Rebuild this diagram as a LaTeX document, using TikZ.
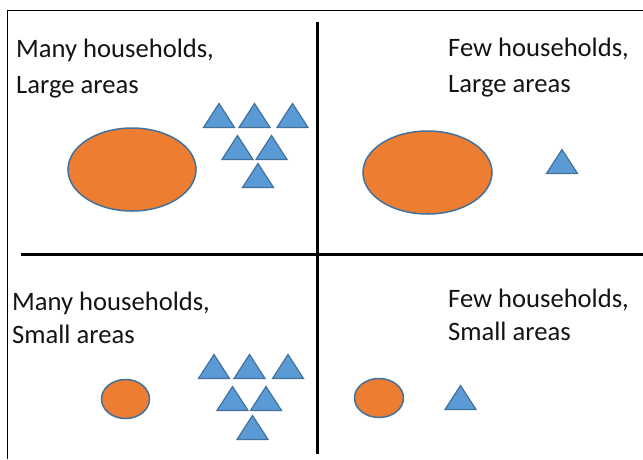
\documentclass[tikz,border=0pt]{standalone}
\usepackage{fontspec}
\setmainfont{Carlito}
\definecolor{orng}{HTML}{ED7D31}
\definecolor{blu}{HTML}{5B9BD5}
\definecolor{edge}{HTML}{41719C}
\definecolor{txt}{HTML}{141414}
\begin{document}
\begin{tikzpicture}[x=1pt,y=-1pt,
  lbl/.style={anchor=base west,inner sep=0pt,font=\fontsize{26.6}{26.6}\selectfont,text=txt},
  oval/.style={fill=orng,draw=edge,line width=1.5pt},
  trist/.style={fill=blu,draw=edge,line width=1.2pt,line join=miter},
  divider/.style={line width=3pt,black},
  frame/.style={line width=1pt,black},
  tri/.pic={\draw[trist] (-15.5,0) -- (15.5,0) -- (0,-24) -- cycle;}
]
\useasboundingbox (0,0) rectangle (643,459);
\fill[white] (0,0) rectangle (643,459);
% frame
\coordinate (ftr) at (643,10);
\coordinate (ftl) at (7,10);
\coordinate (fbl) at (7,459);
\draw[frame] (ftr) -- (ftl) -- (fbl);
% dividers
\coordinate (vt) at (317.7,22);
\coordinate (vb) at (317.7,454);
\coordinate (hl) at (21,254);
\coordinate (hr) at (643,254);
\draw[divider] (vt) -- (vb);
\draw[divider] (hl) -- (hr);
% labels
\node[lbl] (tl1) at (16,57) {Many households,};
\node[lbl] (tl2) at (16,93) {Large areas};
\node[lbl] (tr1) at (448,56) {Few households,};
\node[lbl] (tr2) at (448,92.7) {Large areas};
\node[lbl] (bl1) at (12,310) {Many households,};
\node[lbl] (bl2) at (12,343) {Small areas};
\node[lbl] (br1) at (448,307) {Few households,};
\node[lbl] (br2) at (448,340) {Small areas};
% ellipses
\draw[oval] (132,169.5) ellipse [x radius=64, y radius=41.5];
\draw[oval] (427.5,172.5) ellipse [x radius=64.5, y radius=41.5];
\draw[oval] (125.5,399) ellipse [x radius=24, y radius=19.5];
\draw[oval] (379,398) ellipse [x radius=24.5, y radius=19.5];
% triangles top-left
\pic at (219,127.5) {tri};
\pic at (254.5,127.5) {tri};
\pic at (292.5,127.5) {tri};
\pic at (237.5,159.5) {tri};
\pic at (271.5,159.5) {tri};
\pic at (258,187.5) {tri};
% top-right
\pic at (562,173.5) {tri};
% bottom-left
\pic at (214,378.5) {tri};
\pic at (249.5,378.5) {tri};
\pic at (288,378.5) {tri};
\pic at (232.5,410.5) {tri};
\pic at (266,410.5) {tri};
\pic at (252.5,439.5) {tri};
% bottom-right
\pic at (460.5,409.5) {tri};
\end{tikzpicture}
\end{document}
